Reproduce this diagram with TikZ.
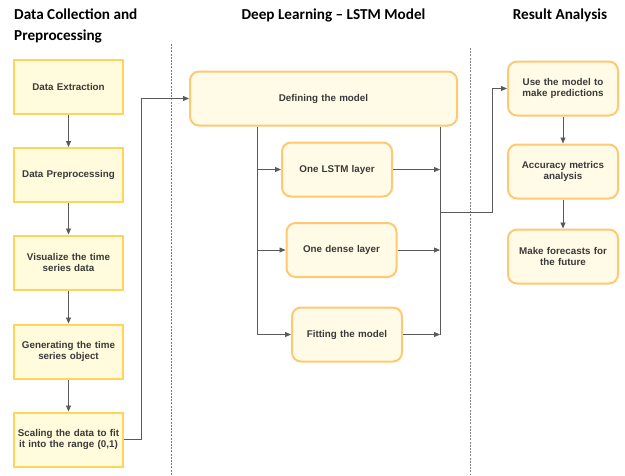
\documentclass[tikz,border=0pt]{standalone}
\usepackage{fontspec}
\setmainfont{Liberation Sans}
\newfontfamily\headfont{Carlito}
\usetikzlibrary{arrows.meta}
\definecolor{sqedge}{HTML}{FFD45A}
\definecolor{sqfill}{HTML}{FFFBDC}
\definecolor{rdedge}{HTML}{FFC873}
\definecolor{rdfill}{HTML}{FFFBE6}
\definecolor{linkc}{HTML}{5A5A5A}
\definecolor{txtc}{HTML}{3A3A3A}
\tikzset{
  sqbox/.style={draw=sqedge, fill=sqfill, line width=2pt, minimum width=109pt,
    minimum height=54pt, align=center, text width=106pt, inner sep=0pt,
    font=\fontsize{9.8}{11}\selectfont\bfseries, text=txtc},
  rdbox/.style={sqbox, draw=rdedge, fill=rdfill, rounded corners=9pt, minimum width=110pt},
  head/.style={font=\headfont\fontsize{15.2}{18}\selectfont\bfseries, text=black, inner sep=0pt},
  link/.style={draw=linkc, line width=0.8pt},
  arr/.style={link, -{Triangle[length=6pt,width=5pt]}},
  divider/.style={draw=gray, line width=0.9pt, dash pattern=on 2pt off 1.2pt}
}
\begin{document}
\begin{tikzpicture}[x=1pt,y=-1pt]
\useasboundingbox (0,0) rectangle (625,475);

% column headings
\node[head, anchor=base west] (h1a) at (14,19.5) {Data Collection and};
\node[head, anchor=base west] (h1b) at (14,40) {Preprocessing};
\node[head, anchor=base] (h2) at (333.5,19.5) {Deep Learning – LSTM Model};
\node[head, anchor=base] (h3) at (560,19.5) {Result Analysis};

% column dividers
\coordinate (d1t) at (171,44);
\coordinate (d1b) at (171,475);
\coordinate (d2t) at (470,48);
\coordinate (d2b) at (470,475);
\draw[divider] (d1t) -- (d1b);
\draw[divider] (d2t) -- (d2b);

% data collection and preprocessing
\node[sqbox] (ext) at (68.5,86.5) {Data Extraction};
\node[sqbox] (pre) at (68.5,175) {Data Preprocessing};
\node[sqbox] (vis) at (68.5,262.5) {Visualize the time\\series data};
\node[sqbox] (gen) at (68.5,351.5) {Generating the time\\series object};
\node[sqbox] (scl) at (68.5,439.5) {Scaling the data to fit\\it into the range (0,1)};

\draw[arr] (ext) -- (pre);
\draw[arr] (pre) -- (vis);
\draw[arr] (vis) -- (gen);
\draw[arr] (gen) -- (scl);

% LSTM model
\node[rdbox, minimum width=267pt, text width=250pt] (def) at (323.5,98.5) {Defining the model};
\node[rdbox] (lstm) at (337,169.5) {One LSTM layer};
\node[rdbox] (dense) at (341.5,250) {One dense layer};
\node[rdbox] (fit) at (347,334.5) {Fitting the model};

\coordinate (jin) at (141,439.5);
\draw[arr] (scl.east) -- (jin) |- (def.west);

\coordinate (tl) at (257,334.5);
\coordinate (tr) at (440,334.5);
\draw[link] (def.south -| tl) -- (tl);
\draw[arr] (tl |- lstm.west) -- (lstm.west);
\draw[arr] (tl |- dense.west) -- (dense.west);
\draw[arr] (tl) -- (fit.west);
\draw[link] (def.south -| tr) -- (tr);
\draw[arr] (lstm.east) -- (lstm.east -| tr);
\draw[arr] (dense.east) -- (dense.east -| tr);
\draw[arr] (fit.east) -- (tr);

% result analysis
\node[rdbox] (use) at (563,88.5) {Use the model to\\make predictions};
\node[rdbox] (acc) at (563,171.5) {Accuracy metrics\\analysis};
\node[rdbox] (fc) at (563,256.5) {Make forecasts for\\the future};

\coordinate (jo1) at (440,212);
\coordinate (jo2) at (492,212);
\draw[arr] (jo1) -- (jo2) |- (use.west);
\draw[arr] (use) -- (acc);
\draw[arr] (acc) -- (fc);
\end{tikzpicture}
\end{document}
